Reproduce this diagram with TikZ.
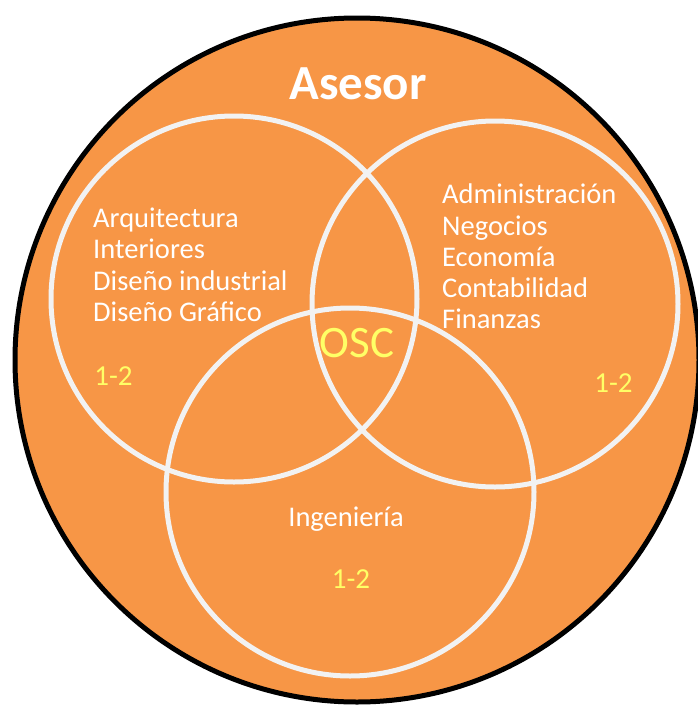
\documentclass[tikz,border=0pt]{standalone}
\usepackage{fontspec}
\setmainfont{Carlito}
\definecolor{oscorange}{HTML}{F79646}
\definecolor{ringwhite}{HTML}{F2F2F2}
\definecolor{numyellow}{HTML}{FFFF66}
\begin{document}
\begin{tikzpicture}[x=1pt,y=-1pt,
  ring/.style={draw=ringwhite, line width=5pt},
  lbl/.style={text=white, font=\fontsize{28.5}{31}\selectfont, inner sep=0pt, anchor=base west},
  num/.style={text=numyellow, font=\fontsize{29}{31}\selectfont, inner sep=0pt, anchor=base}]
\useasboundingbox (0,0) rectangle (697,705);
\draw[fill=oscorange, draw=black, line width=5pt] (357,360) circle[radius=342];
\draw[ring] (234,299) circle[radius=183];
\draw[ring] (495,304) circle[radius=183];
\draw[ring] (350,492) circle[radius=184];
\node[text=white, font=\bfseries\fontsize{49}{52}\selectfont, inner sep=0pt, anchor=base] (asesor) at (358,99) {Asesor};
\node[lbl] (l1) at (93,227) {Arquitectura};
\node[lbl] (l2) at (93,258) {Interiores};
\node[lbl] (l3) at (93,290) {Diseño industrial};
\node[lbl] (l4) at (93,321) {Diseño Gráfico};
\node[lbl] (r1) at (442,203) {Administración};
\node[lbl] (r2) at (442,235) {Negocios};
\node[lbl] (r3) at (442,266) {Economía};
\node[lbl] (r4) at (442,297) {Contabilidad};
\node[lbl] (r5) at (442,328) {Finanzas};
\node[lbl, anchor=base] (ing) at (346,526) {Ingeniería};
\node[text=numyellow, font=\fontsize{45}{48}\selectfont, inner sep=0pt, anchor=base] (osc) at (357,357) {OSC};
\node[num] (n1) at (113.5,385) {1-2};
\node[num] (n2) at (613.5,392) {1-2};
\node[num] (n3) at (351,588) {1-2};
\end{tikzpicture}
\end{document}
